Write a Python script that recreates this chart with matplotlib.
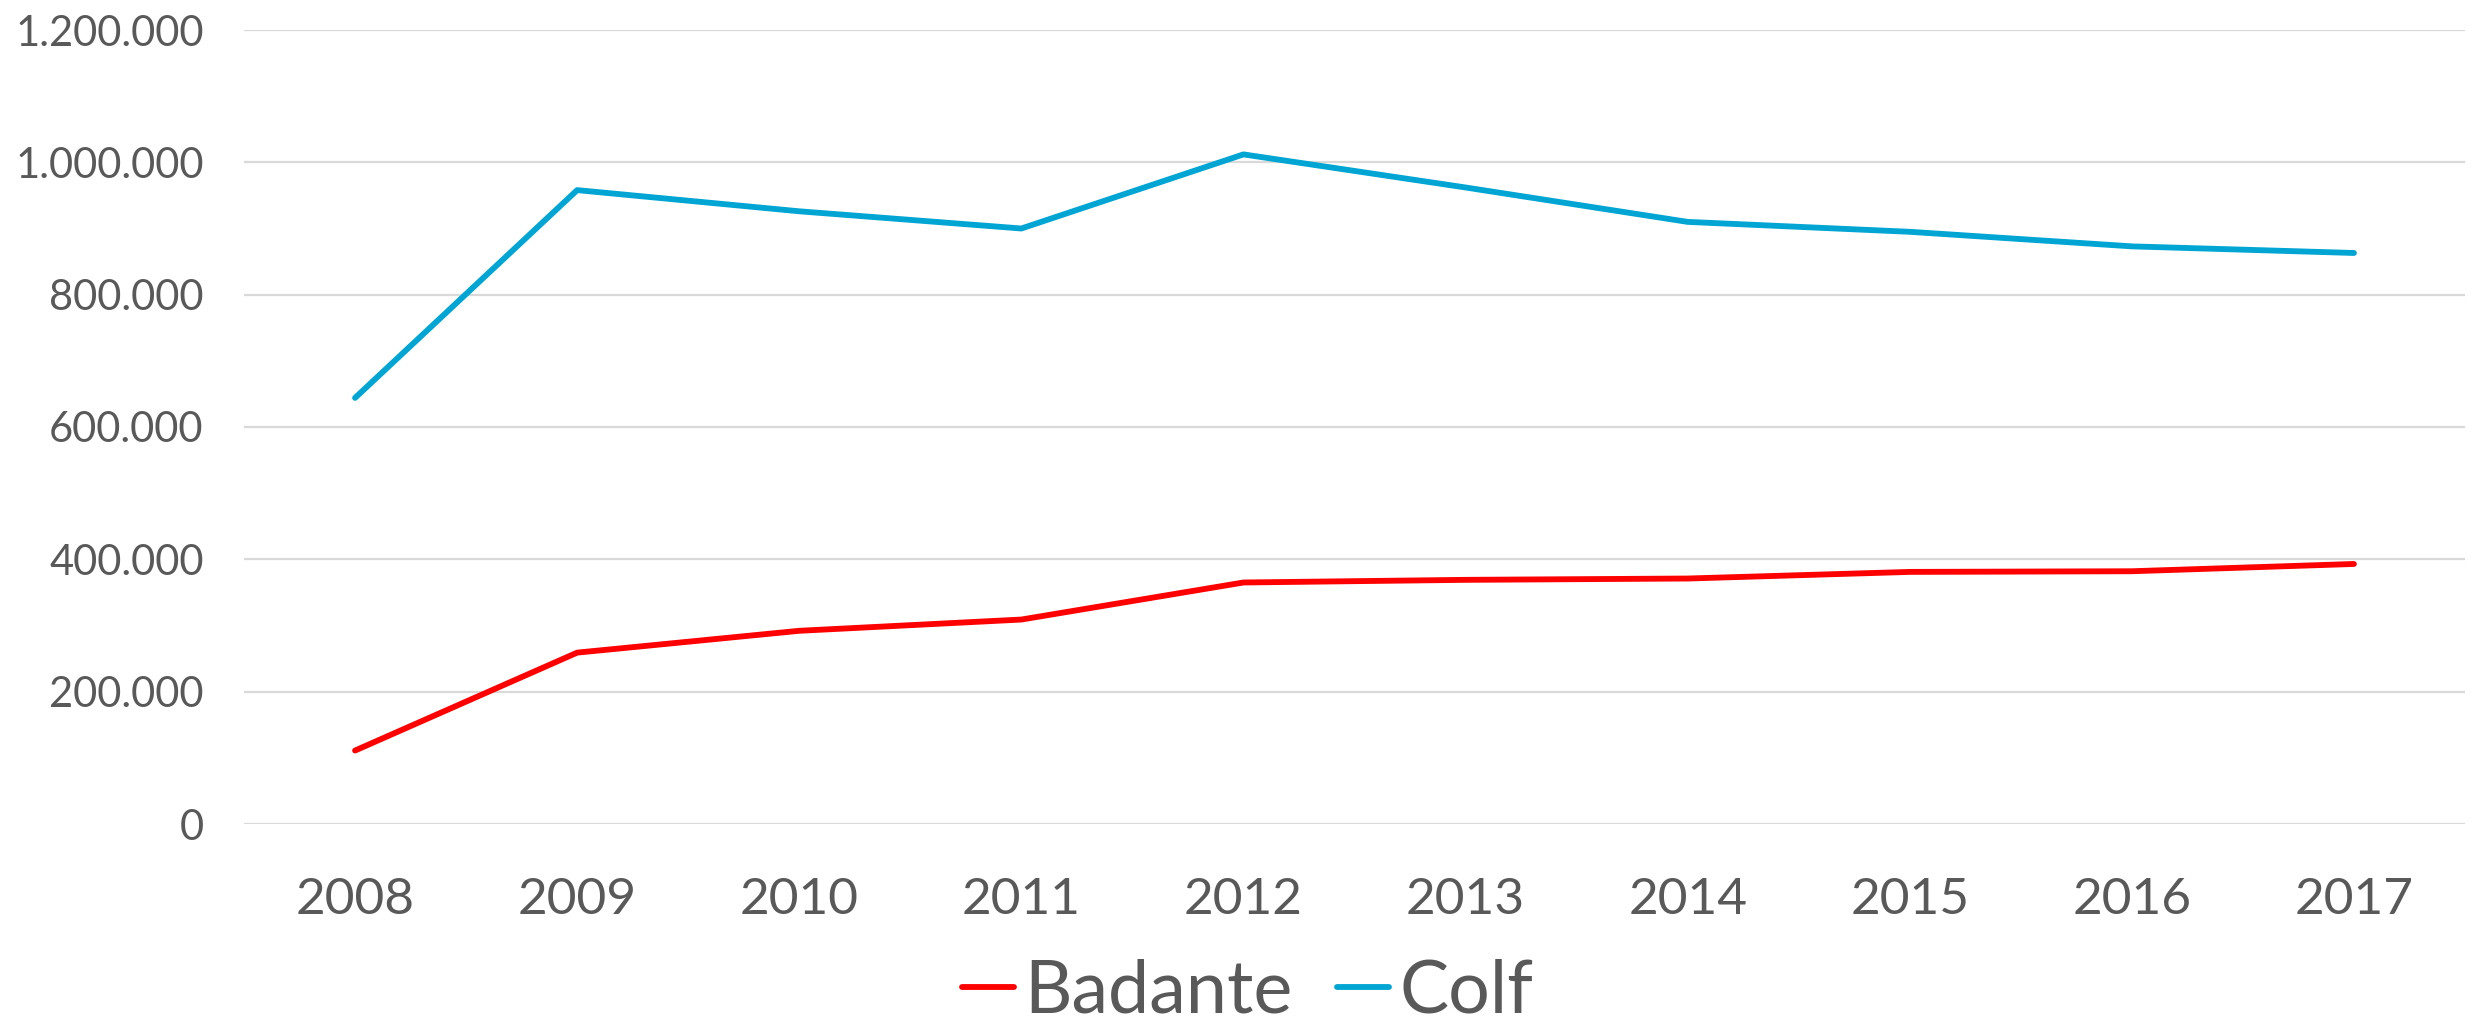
import matplotlib
matplotlib.use('Agg')
import matplotlib.pyplot as plt
from matplotlib.ticker import FuncFormatter

plt.rcParams['font.family'] = ['Lato', 'DejaVu Sans']

# data
years = ['2008', '2009', '2010', '2011', '2012', '2013', '2014', '2015', '2016', '2017']
badante = [111000, 259000, 292000, 309000, 365000, 369000, 371000, 381000, 382000, 393000]
colf = [644000, 958000, 926000, 900000, 1012000, 962000, 910000, 895000, 873000, 863000]
y_ticks = [0, 200000, 400000, 600000, 800000, 1000000, 1200000]

text_color = '#595959'
grid_color = '#D9D9D9'
red = '#FF0000'
blue = '#00A5D3'

fig = plt.figure(figsize=(24.73, 10.25), dpi=100, facecolor='white')
ax = fig.add_axes([244/2473, 1-824/1025, (2465-244)/2473, (824-30)/1025])

x = list(range(len(years)))
ax.plot(x, badante, color=red, lw=4.2, solid_capstyle='round', label='Badante')
ax.plot(x, colf, color=blue, lw=4.2, solid_capstyle='round', label='Colf')

ax.set_xlim(-0.5, len(years)-0.5)
ax.set_ylim(0, 1200000)
ax.set_yticks(y_ticks)
ax.yaxis.set_major_formatter(FuncFormatter(lambda v, p: f'{int(v):,}'.replace(',', '.')))
ax.set_xticks(x)
ax.set_xticklabels(years)

ax.grid(axis='y', color=grid_color, lw=1.6)
ax.set_axisbelow(True)
for s in ax.spines.values():
    s.set_visible(False)
ax.tick_params(axis='y', length=0, pad=29, labelsize=30, labelcolor=text_color)
ax.tick_params(axis='x', length=0, pad=38, labelsize=37, labelcolor=text_color)

fig.legend(loc='center', bbox_to_anchor=(1248/2473, 1-992/1025), ncol=2, frameon=False,
           fontsize=53, labelcolor=text_color, handlelength=0.7, handletextpad=0.15,
           columnspacing=0.6, borderpad=0)

fig.savefig('out.png', dpi=100, facecolor='white')
